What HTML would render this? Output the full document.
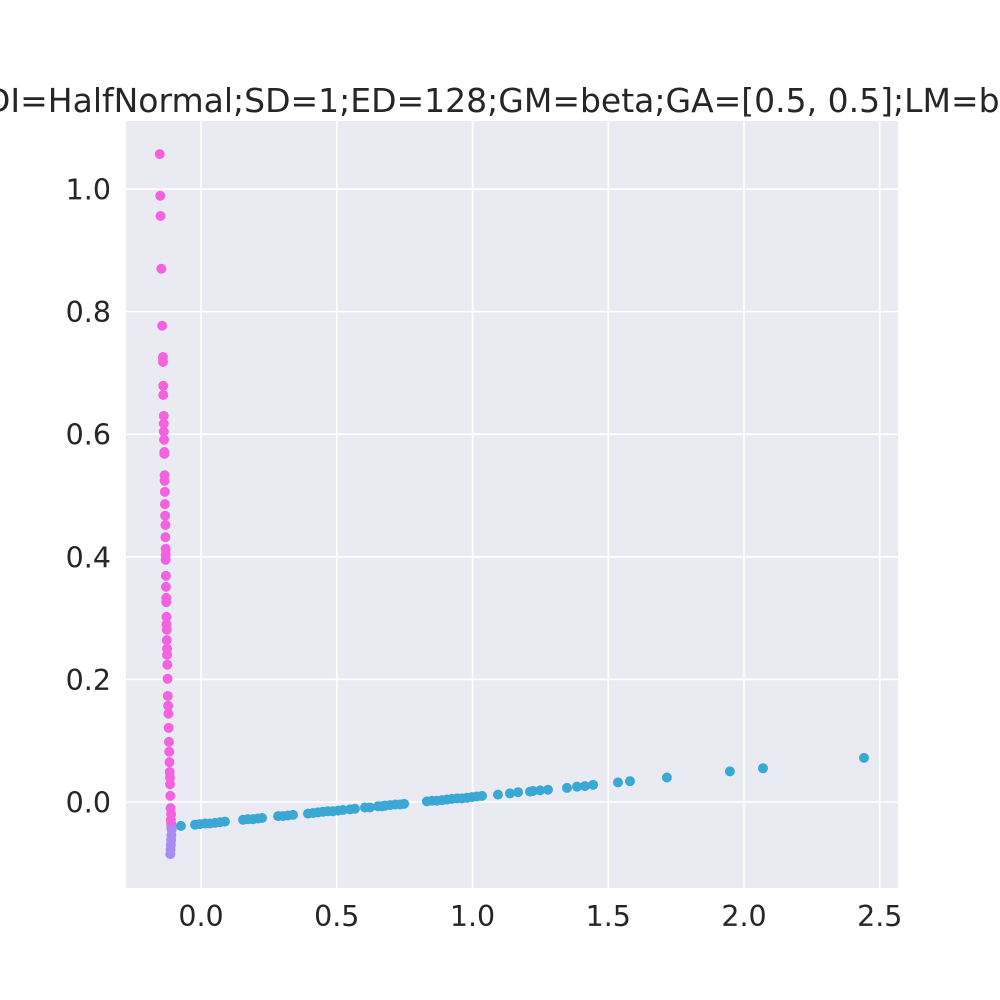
<!DOCTYPE html>
<html><head><meta charset="utf-8"><style>
html,body{margin:0;padding:0;background:#fff;}
svg{display:block;font-family:"DejaVu Sans","Liberation Sans",sans-serif;}
</style></head><body>
<svg id="chart" width="1000" height="1000" viewBox="0 0 1000 1000">
<rect x="0" y="0" width="1000" height="1000" fill="#ffffff"/>
<text x="-15" y="112" font-size="33" fill="#262626">DI=HalfNormal;SD=1;ED=128;GM=beta;GA=[0.5, 0.5];LM=beta</text>
<rect x="126" y="121" width="772" height="767" fill="#eaeaf2"/>
<g id="grid"></g>
<g id="ticks"></g>
<g id="points"></g>
</svg>
<script>
const xTicks = [0.0, 0.5, 1.0, 1.5, 2.0, 2.5];
const xTickLabels = ["0.0", "0.5", "1.0", "1.5", "2.0", "2.5"];
const yTicks = [0.0, 0.2, 0.4, 0.6, 0.8, 1.0];
const yTickLabels = ["0.0", "0.2", "0.4", "0.6", "0.8", "1.0"];

const pinkX = [-0.152,-0.150,-0.149,-0.146,-0.143,-0.140,-0.140,-0.139,-0.139,-0.137,-0.137,-0.137,-0.136,-0.135,-0.135,-0.134,-0.134,-0.133,-0.133,-0.132,-0.131,-0.131,-0.130,-0.130,-0.130,-0.129,-0.129,-0.128,-0.128,-0.127,-0.127,-0.126,-0.126,-0.125,-0.125,-0.124,-0.123,-0.122,-0.121,-0.120,-0.119,-0.118,-0.117,-0.116,-0.115,-0.114,-0.113,-0.112,-0.111];
const pinkY = [1.057,0.989,0.956,0.870,0.777,0.726,0.718,0.679,0.664,0.630,0.617,0.604,0.591,0.571,0.568,0.533,0.524,0.506,0.486,0.467,0.452,0.432,0.413,0.403,0.395,0.369,0.351,0.333,0.326,0.302,0.290,0.281,0.264,0.250,0.240,0.224,0.201,0.173,0.157,0.144,0.121,0.098,0.082,0.065,0.049,0.029,0.010,-0.010,-0.029];
const pinkX2 = [-0.110,-0.110,-0.109,-0.114];
const pinkY2 = [-0.020,-0.035,-0.042,0.040];

const purpleX = [-0.108,-0.109,-0.110,-0.111,-0.112,-0.113];
const purpleY = [-0.045,-0.054,-0.062,-0.070,-0.078,-0.085];

const blueX = [-0.074,-0.022,-0.004,0.015,0.033,0.052,0.070,0.088,0.155,0.173,0.192,0.210,0.225,0.284,0.302,0.320,0.339,0.394,0.413,0.431,0.449,0.468,0.486,0.505,0.523,0.549,0.567,0.604,0.622,0.652,0.667,0.678,0.696,0.715,0.733,0.748,0.832,0.851,0.869,0.888,0.906,0.924,0.943,0.961,0.980,0.998,1.016,1.035,1.094,1.138,1.168,1.212,1.223,1.249,1.278,1.348,1.385,1.414,1.444,1.536,1.580,1.716,1.948,2.070,2.442];
const blueY = [-0.039,-0.037,-0.036,-0.035,-0.035,-0.034,-0.033,-0.032,-0.029,-0.028,-0.028,-0.027,-0.026,-0.023,-0.023,-0.022,-0.021,-0.019,-0.018,-0.017,-0.016,-0.015,-0.015,-0.014,-0.013,-0.012,-0.011,-0.009,-0.009,-0.007,-0.007,-0.006,-0.005,-0.004,-0.004,-0.003,0.001,0.002,0.002,0.003,0.004,0.005,0.006,0.006,0.007,0.008,0.009,0.010,0.012,0.014,0.016,0.017,0.018,0.019,0.020,0.023,0.025,0.026,0.028,0.032,0.034,0.040,0.050,0.055,0.072];

const NS = "http://www.w3.org/2000/svg";
const X0 = 126, X1 = 898, Y0 = 121, Y1 = 888;
const xMin = -0.2762, xMax = 2.5672, yMin = -0.1403, yMax = 1.1110;
function sx(v){ return X0 + (v - xMin) / (xMax - xMin) * (X1 - X0); }
function sy(v){ return Y1 - (v - yMin) / (yMax - yMin) * (Y1 - Y0); }

const grid = document.getElementById('grid');
const ticks = document.getElementById('ticks');
xTicks.forEach((t, i) => {
  const l = document.createElementNS(NS, 'line');
  l.setAttribute('x1', sx(t)); l.setAttribute('x2', sx(t));
  l.setAttribute('y1', Y0); l.setAttribute('y2', Y1);
  l.setAttribute('stroke', '#ffffff'); l.setAttribute('stroke-width', '1.6');
  
  
  grid.appendChild(l);
  const tx = document.createElementNS(NS, 'text');
  tx.setAttribute('x', sx(t)); tx.setAttribute('y', 926);
  tx.setAttribute('text-anchor', 'middle'); tx.setAttribute('font-size', '28.5'); tx.setAttribute('fill', '#262626');
  tx.textContent = xTickLabels[i];
  
  
  ticks.appendChild(tx);
});
yTicks.forEach((t, i) => {
  const l = document.createElementNS(NS, 'line');
  l.setAttribute('x1', X0); l.setAttribute('x2', X1);
  l.setAttribute('y1', sy(t)); l.setAttribute('y2', sy(t));
  l.setAttribute('stroke', '#ffffff'); l.setAttribute('stroke-width', '1.6');
  
  
  grid.appendChild(l);
  const tx = document.createElementNS(NS, 'text');
  tx.setAttribute('x', 111); tx.setAttribute('y', sy(t) + 10.5);
  tx.setAttribute('text-anchor', 'end'); tx.setAttribute('font-size', '28.5'); tx.setAttribute('fill', '#262626');
  tx.textContent = yTickLabels[i];
  
  
  ticks.appendChild(tx);
});

const pts = document.getElementById('points');
function drawSeries(xs, ys, color, name){
  xs.forEach((x, i) => {
    const c = document.createElementNS(NS, 'circle');
    c.setAttribute('cx', sx(x)); c.setAttribute('cy', sy(ys[i]));
    c.setAttribute('r', 5); c.setAttribute('fill', color);
    
    
    pts.appendChild(c);
  });
}
drawSeries(blueX, blueY, '#3aa8d5', 'blue-point');
drawSeries(pinkX, pinkY, '#f363e0', 'pink-point');
drawSeries(pinkX2, pinkY2, '#f363e0', 'pink-point');
drawSeries(purpleX, purpleY, '#a88cf2', 'purple-point');
</script>
</body></html>
